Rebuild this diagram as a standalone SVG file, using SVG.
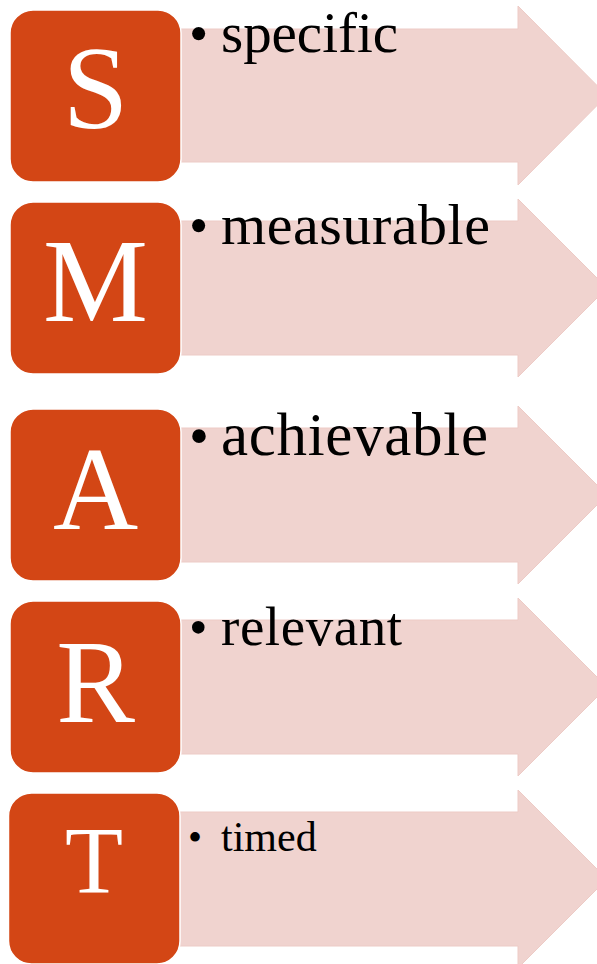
<svg xmlns="http://www.w3.org/2000/svg" width="597" height="964" viewBox="0 0 597 964">
<style>
.arrow{fill:#F0D3CF;stroke:#EDCBC6;stroke-width:1}
.box{fill:#D34615;stroke:#FFFFFF;stroke-width:1.5}
.letter{font-family:"Liberation Serif",serif;fill:#FFFFFF;text-anchor:middle}
.item{font-family:"Liberation Serif",serif;fill:#000000}
</style>
<rect width="597" height="964" fill="#FFFFFF"/>
<g id="row-s">
<polygon class="arrow" points="176,29 518,29 518,6 607,95.5 518,185 518,162 176,162"/>
<rect class="box" x="10" y="10" width="171" height="172" rx="23"/>
<text class="letter" x="95.5" y="128" font-size="118">S</text>
<text class="item" x="189" y="52" font-size="55">•</text>
<text class="item" x="221" y="52" font-size="57" textLength="177" lengthAdjust="spacing">specific</text>
</g>
<g id="row-m">
<polygon class="arrow" points="176,221 518,221 518,199 607,288 518,377 518,355 176,355"/>
<rect class="box" x="10" y="202" width="171" height="172" rx="23"/>
<text class="letter" x="95.5" y="321" font-size="118">M</text>
<text class="item" x="189" y="244" font-size="55">•</text>
<text class="item" x="221" y="244" font-size="58" textLength="269" lengthAdjust="spacing">measurable</text>
</g>
<g id="row-a">
<polygon class="arrow" points="176,428 518,428 518,406 607,495 518,584 518,562 176,562"/>
<rect class="box" x="10" y="409" width="171" height="172" rx="23"/>
<text class="letter" x="95.5" y="529" font-size="118">A</text>
<text class="item" x="189" y="455" font-size="57">•</text>
<text class="item" x="221" y="455" font-size="61" textLength="267" lengthAdjust="spacing">achievable</text>
</g>
<g id="row-r">
<polygon class="arrow" points="176,620 518,620 518,598 607,687 518,776 518,754 176,754"/>
<rect class="box" x="10" y="601" width="171" height="172" rx="23"/>
<text class="letter" x="95.5" y="722" font-size="118">R</text>
<text class="item" x="189" y="645" font-size="53">•</text>
<text class="item" x="221" y="645" font-size="55" textLength="181" lengthAdjust="spacing">relevant</text>
</g>
<g id="row-t">
<polygon class="arrow" points="176,812 518,812 518,790 607,879 518,968 518,946 176,946"/>
<rect class="box" x="8.5" y="793" width="171.5" height="171" rx="23"/>
<text class="letter" x="94" y="893" font-size="95">T</text>
<text class="item" x="188" y="851" font-size="40">•</text>
<text class="item" x="221" y="851" font-size="42">timed</text>
</g>
</svg>
